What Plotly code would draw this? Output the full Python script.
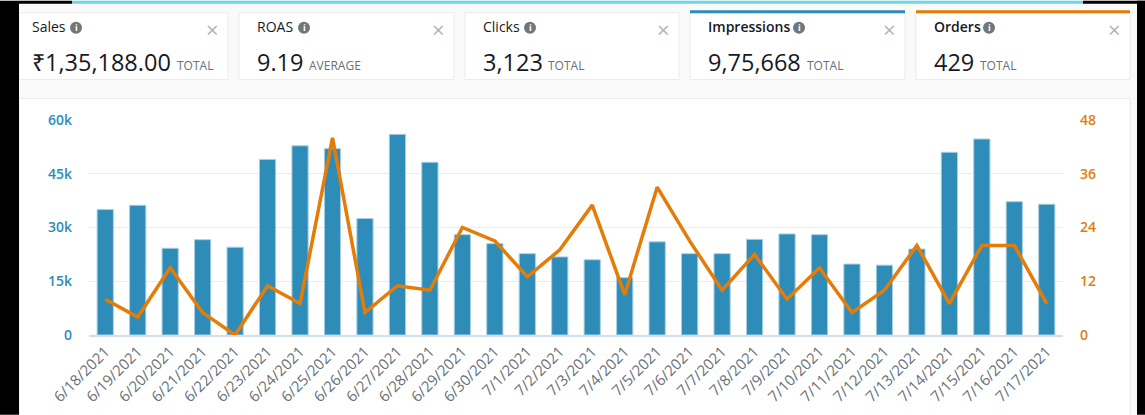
import plotly.graph_objects as go

W, H = 1145, 415
dates = ["6/18/2021","6/19/2021","6/20/2021","6/21/2021","6/22/2021","6/23/2021","6/24/2021","6/25/2021","6/26/2021","6/27/2021","6/28/2021","6/29/2021","6/30/2021","7/1/2021","7/2/2021","7/3/2021","7/4/2021","7/5/2021","7/6/2021","7/7/2021","7/8/2021","7/9/2021","7/10/2021","7/11/2021","7/12/2021","7/13/2021","7/14/2021","7/15/2021","7/16/2021","7/17/2021"]
impressions = [35000,36200,24200,26600,24500,49000,52800,52000,32500,56000,48200,28000,25500,22700,21800,21000,16000,26000,22700,22700,26700,28200,28000,19800,19500,24000,51000,54700,37200,36500]
orders = [8,4,15,5,0,11,7,44,5,11,10,24,21,13,19,29,9,33,21,10,18,8,15,5,10,20,7,20,20,7]
left_ticks = [0,15000,30000,45000,60000]
left_labels = ["0","15k","30k","45k","60k"]
right_ticks = [0,12,24,36,48]

card_titles = ["Sales","ROAS","Clicks","Impressions","Orders"]
card_values = ["₹1,35,188.00","9.19","3,123","9,75,668","429"]
card_notes = ["TOTAL","AVERAGE","TOTAL","TOTAL","TOTAL"]
card_left = [19,239,465,690,916]
card_right = [228,454,679,905,1130]
card_text = [32,257,483,708,934]
icon_x = [76,304,530,799,989]
note_x = [177,309,548,807,980]
card_accent = [None,None,None,"#2E8CB8","#E47C07"]

BLUE, ORANGE = "#2E8CB8", "#E47C07"
FONT = "Open Sans"
ml, mr, mt, mb = 89, 82, 119.5, 80
pw, ph = W-ml-mr, H-mt-mb
px = lambda x: (x-ml)/pw
py = lambda y: 1-(y-mt)/ph

shapes, ann = [], []
def rect(x0,y0,x1,y1,fill,line=None,layer="below"):
    shapes.append(dict(type="rect",xref="paper",yref="paper",x0=px(x0),x1=px(x1),y0=py(y0),y1=py(y1),
                       fillcolor=fill,line=dict(color=line or fill,width=1 if line else 0),layer=layer))
def text(x,y,s,size,color,weight=400,anchor="left"):
    ann.append(dict(xref="paper",yref="paper",x=px(x),y=py(y),text=s,showarrow=False,xanchor=anchor,yanchor="middle",
                    font=dict(family=FONT,size=size,color=color,weight=weight),borderpad=0,borderwidth=0))

rect(0,0,W,H,"#FAFAFA")
rect(19,98,1130,H+2,"#FFFFFF","#E9EBEB")
for i in range(5):
    rect(card_left[i],12,card_right[i],79,"#FFFFFF","#E9EBEB")
    if card_accent[i]:
        rect(card_left[i],9.5,card_right[i],12.5,card_accent[i])
    w = 600 if card_accent[i] else 400
    text(card_text[i],26,card_titles[i],14,"#16191F",w)
    ix = icon_x[i]
    shapes.append(dict(type="circle",xref="paper",yref="paper",x0=px(ix-6),x1=px(ix+6),y0=py(21),y1=py(33),
                       fillcolor="#6F7777",line=dict(width=0),layer="above"))
    text(ix,27,"i",9,"#FFFFFF",700,"center")
    text(card_text[i],61,card_values[i],23.5,"#16191F")
    text(note_x[i],64.5,card_notes[i],12,"#687078")
    text(card_right[i]-16,28,"×",22,"#AAB7B8",400,"center")
# black frame and cyan strip of the screenshot
rect(0,0,19,H,"#000000",layer="above")
rect(19,0,72,3,"#000000",layer="above")
rect(72,0,1083,3,"#6AD7E5",layer="above")
rect(1083,0,W,3,"#000000",layer="above")
rect(1137,0,W,H,"#000000",layer="above")

fig = go.Figure()
fig.add_bar(x=dates,y=impressions,name="Impressions",width=0.5,
            marker=dict(color=BLUE,line=dict(color="#A9D0E2",width=1)),yaxis="y")
fig.add_scatter(x=dates,y=orders,name="Orders",mode="lines",line=dict(color=ORANGE,width=3.5,shape="linear"),yaxis="y2",cliponaxis=False)
fig.update_layout(
    width=W,height=H,autosize=False,margin=dict(l=ml,r=mr,t=mt,b=mb,pad=0,autoexpand=False),
    paper_bgcolor="#FAFAFA",plot_bgcolor="rgba(0,0,0,0)",showlegend=False,
    shapes=shapes,annotations=ann,
    xaxis=dict(type="category",categoryorder="array",categoryarray=dates,tickangle=-45,showgrid=False,ticks="",automargin=False,
               showline=True,linecolor="#D5DDE6",linewidth=2,zeroline=False,
               tickfont=dict(family=FONT,size=15,color="#687078")),
    yaxis=dict(range=[0,60000],tickvals=left_ticks,ticktext=left_labels,gridcolor="#EAEDED",gridwidth=1,zeroline=False,automargin=False,
               showline=False,ticks="",ticklabelstandoff=16,tickfont=dict(family=FONT,size=14,color=BLUE,weight=600)),
    yaxis2=dict(range=[0,48],overlaying="y",side="right",tickvals=right_ticks,showgrid=False,zeroline=False,automargin=False,
                showline=False,ticks="",ticklabelstandoff=16,tickfont=dict(family=FONT,size=14,color=ORANGE,weight=600)),
)
fig.write_html("out.html",config=dict(displayModeBar=False),
               post_script="document.body.style.margin='0';document.documentElement.style.overflow='hidden';")
